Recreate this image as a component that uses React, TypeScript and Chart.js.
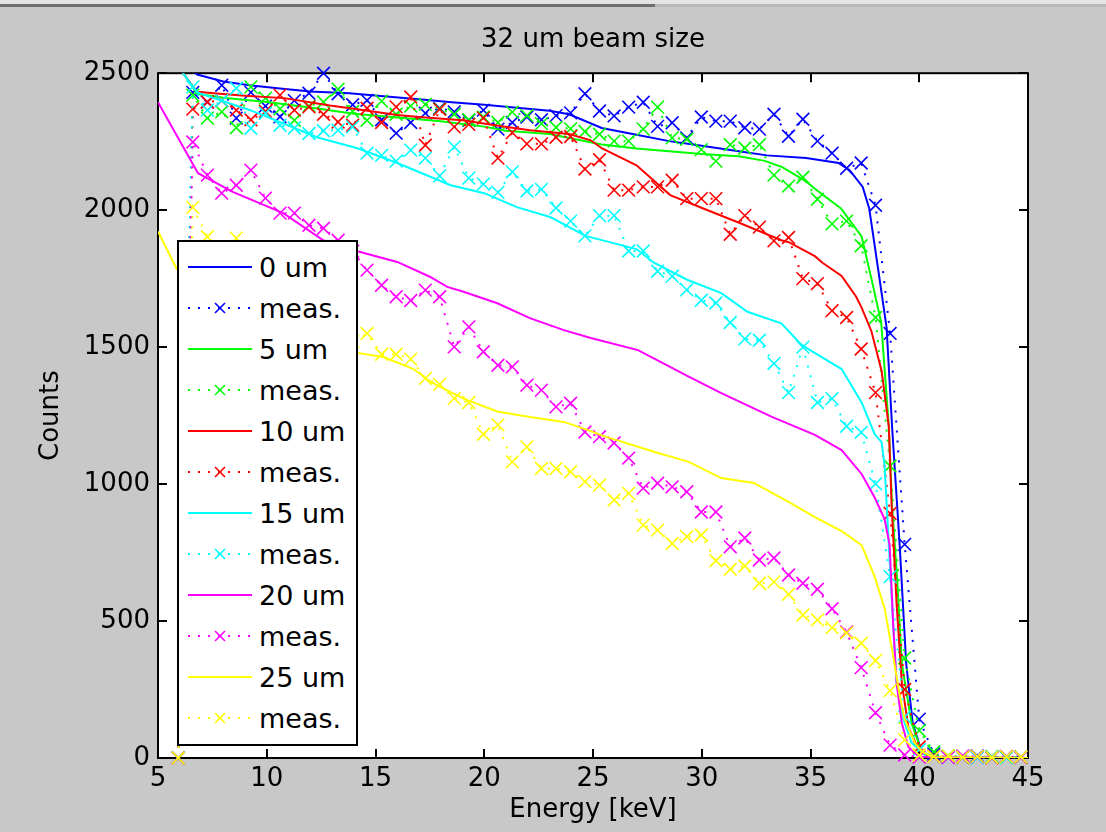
import React, { useEffect, useRef } from "react";
import { Chart, registerables } from "chart.js";

Chart.register(...registerables);

const titleText = "32 um beam size";
const xTitleText = "Energy [keV]";
const yTitleText = "Counts";
const xTickValues = [5, 10, 15, 20, 25, 30, 35, 40, 45];
const yTickValues = [0, 500, 1000, 1500, 2000, 2500];

const legendLabels = ["0 um", "meas.", "5 um", "meas.", "10 um", "meas.", "15 um", "meas.", "20 um", "meas.", "25 um", "meas."];
const seriesColors = ["#0000ff", "#00ff00", "#ff0000", "#00ffff", "#ff00ff", "#ffff00"];

// measured energies (keV)
const measEnergy = [5.93, 6.60, 7.27, 7.93, 8.60, 9.27, 9.94, 10.61, 11.27, 11.94, 12.61, 13.28, 13.95, 14.61, 15.28, 15.95, 16.62, 17.29, 17.95, 18.62, 19.29, 19.96, 20.63, 21.29, 21.96, 22.63, 23.30, 23.97, 24.63, 25.30, 25.97, 26.64, 27.31, 27.97, 28.64, 29.31, 29.98, 30.65, 31.31, 31.98, 32.65, 33.32, 33.99, 34.65, 35.32, 35.99, 36.66, 37.33, 37.99, 38.66, 39.33, 40.00, 40.67, 41.33, 42.00, 42.67, 43.34, 44.01, 44.67];

const meas0 = [0, 2430, 2395, 2456, 2336, 2430, 2380, 2341, 2400, 2427, 2500, 2425, 2385, 2401, 2330, 2281, 2320, 2354, 2372, 2359, 2328, 2365, 2296, 2320, 2340, 2330, 2345, 2355, 2425, 2362, 2344, 2376, 2394, 2306, 2319, 2264, 2340, 2325, 2325, 2301, 2296, 2350, 2270, 2332, 2252, 2208, 2153, 2172, 2018, 1550, 780, 142, 15, 6, 3, 8, 2, 5, 4];
const meas5 = [0, 2420, 2336, 2359, 2301, 2450, 2409, 2370, 2328, 2380, 2395, 2442, 2360, 2328, 2398, 2350, 2380, 2386, 2370, 2350, 2330, 2340, 2320, 2358, 2345, 2316, 2302, 2297, 2287, 2277, 2252, 2252, 2296, 2376, 2264, 2259, 2221, 2179, 2239, 2227, 2239, 2128, 2088, 2120, 2040, 1950, 1960, 1870, 1608, 1066, 365, 100, 23, 8, 5, 3, 6, 2, 4];
const meas10 = [0, 2369, 2395, 2400, 2365, 2330, 2360, 2420, 2365, 2377, 2350, 2322, 2310, 2372, 2320, 2377, 2413, 2237, 2368, 2304, 2313, 2336, 2190, 2283, 2242, 2242, 2266, 2269, 2150, 2184, 2073, 2073, 2085, 2085, 2109, 2042, 2042, 2042, 1912, 1980, 1938, 1888, 1900, 1750, 1732, 1633, 1608, 1493, 1334, 893, 250, 40, 8, 3, 2, 4, 1, 3, 2];
const meas15 = [0, 2450, 2365, 2400, 2445, 2299, 2354, 2310, 2300, 2280, 2290, 2292, 2304, 2208, 2200, 2179, 2219, 2190, 2125, 2231, 2117, 2095, 2065, 2140, 2070, 2076, 2008, 1960, 1906, 1980, 1980, 1851, 1851, 1777, 1759, 1709, 1671, 1661, 1590, 1530, 1525, 1440, 1334, 1500, 1298, 1312, 1211, 1189, 1001, 662, 150, 30, 6, 2, 3, 1, 4, 2, 3];
const meas20 = [0, 2249, 2128, 2062, 2091, 2146, 2044, 1989, 1989, 1945, 1934, 1890, 1850, 1781, 1726, 1684, 1670, 1708, 1684, 1501, 1574, 1483, 1434, 1428, 1361, 1343, 1282, 1295, 1190, 1173, 1150, 1095, 985, 1003, 990, 972, 898, 898, 771, 803, 723, 730, 668, 638, 616, 545, 460, 330, 165, 47, 11, 3, 5, 2, 8, 4, 2, 6, 3];
const meas25 = [0, 2010, 1903, 1860, 1898, 1820, 1790, 1745, 1700, 1668, 1620, 1585, 1520, 1550, 1474, 1474, 1456, 1386, 1364, 1313, 1298, 1182, 1216, 1081, 1136, 1057, 1057, 1045, 1009, 996, 942, 966, 850, 832, 783, 808, 814, 720, 689, 701, 638, 643, 598, 522, 504, 476, 457, 419, 356, 246, 66, 10, 5, 8, 3, 6, 2, 5, 4];

// simulated curves
const sim0E = [5, 5.6, 6.2, 6.8, 8, 9.2, 10.5, 12, 13.8, 15.5, 17, 18.5, 20, 22, 23, 23.9, 25.4, 27, 28.5, 30, 31.7, 33, 34.8, 36.3, 36.8, 37.4, 37.7, 38.1, 38.5, 38.75, 39.1, 39.4, 39.7, 40.1, 40.6, 45];
const sim0C = [2720, 2620, 2540, 2495, 2470, 2456, 2445, 2433, 2427, 2415, 2405, 2394, 2385, 2370, 2363, 2350, 2300, 2275, 2252, 2235, 2215, 2200, 2190, 2172, 2146, 2085, 2006, 1790, 1570, 1210, 777, 344, 127, 26, 3, 0];
const sim5E = [5, 6.2, 6.8, 8, 10, 12, 14, 16, 18, 20, 21, 23, 25.4, 27, 28.5, 30, 31.7, 32.9, 33.7, 34.8, 35.2, 36.4, 37.35, 37.8, 38.25, 38.6, 38.75, 39, 39.2, 39.65, 40.1, 40.6, 45];
const sim5C = [2640, 2495, 2425, 2410, 2395, 2375, 2352, 2338, 2325, 2305, 2290, 2278, 2240, 2225, 2215, 2205, 2197, 2180, 2157, 2105, 2078, 2006, 1904, 1750, 1590, 1211, 922, 633, 344, 127, 26, 3, 0];
const sim10E = [5, 6.15, 6.8, 7.7, 9, 10.8, 12.9, 14, 16, 17, 19, 20.8, 22.1, 23.9, 24.9, 25.4, 27, 28.55, 30.1, 31.66, 33.66, 34.0, 35.2, 35.55, 36.43, 37.1, 37.35, 37.8, 38.27, 38.6, 38.73, 38.96, 39.2, 39.5, 40, 40.5, 45];
const sim10C = [2640, 2500, 2432, 2426, 2418, 2409, 2382, 2370, 2347, 2340, 2328, 2306, 2292, 2278, 2255, 2226, 2164, 2055, 2005, 1956, 1890, 1883, 1832, 1808, 1760, 1684, 1644, 1558, 1413, 1211, 922, 561, 272, 113, 26, 3, 0];
const sim15E = [5, 6.15, 6.8, 9.24, 10.76, 12.3, 14.17, 16.0, 18.46, 20.0, 21.5, 23.06, 24.65, 27.0, 27.8, 29.33, 30.9, 32.1, 33.66, 34.6, 36.43, 37.35, 37.95, 38.27, 38.41, 38.6, 38.8, 38.96, 39.33, 39.65, 40.1, 40.6, 45];
const sim15C = [2650, 2500, 2430, 2365, 2317, 2266, 2226, 2172, 2091, 2062, 2011, 1974, 1906, 1858, 1808, 1746, 1697, 1629, 1587, 1507, 1420, 1298, 1182, 1153, 1066, 777, 488, 272, 127, 55, 26, 3, 0];
const sim20E = [5, 6.84, 8.46, 10.76, 12.6, 14.17, 16, 17.5, 18.3, 19.05, 20.6, 22.1, 23.66, 24.9, 27.07, 29.4, 30.9, 33.2, 35.2, 36.43, 37.35, 37.95, 38.41, 38.64, 38.8, 38.96, 39.2, 39.5, 40, 45];
const sim20C = [2394, 2135, 2066, 1989, 1890, 1850, 1811, 1757, 1720, 1702, 1660, 1606, 1562, 1533, 1489, 1392, 1332, 1246, 1180, 1124, 1037, 951, 871, 777, 488, 272, 127, 40, 5, 0];
const sim25E = [5, 5.83, 6.8, 8, 10, 12, 14.16, 15.37, 16.75, 17.53, 19.05, 20.6, 22.1, 23.66, 24.77, 25.5, 27.8, 29.4, 30.9, 32.4, 33.99, 35.2, 36.43, 37.35, 37.95, 38.41, 38.8, 39.1, 39.33, 39.8, 40.1, 40.6, 45];
const sim25C = [1922, 1790, 1700, 1645, 1585, 1532, 1479, 1464, 1420, 1373, 1312, 1265, 1245, 1227, 1197, 1175, 1118, 1081, 1022, 1004, 935, 879, 828, 777, 662, 546, 373, 228, 142, 55, 26, 3, 0];

const simE = [sim0E, sim5E, sim10E, sim15E, sim20E, sim25E];
const simC = [sim0C, sim5C, sim10C, sim15C, sim20C, sim25C];
const measC = [meas0, meas5, meas10, meas15, meas20, meas25];

const FONT = "DejaVu Sans";

const axesBoxPlugin = {
  id: "axesBox",
  beforeDraw(chart: any) {
    const { ctx, chartArea: a } = chart;
    ctx.save();
    ctx.fillStyle = "#ffffff";
    ctx.fillRect(a.left, a.top, a.right - a.left, a.bottom - a.top);
    ctx.restore();
  },
  beforeDatasetsDraw(chart: any) {
    const { ctx, chartArea: a, scales } = chart;
    const L = 9;
    ctx.save();
    ctx.strokeStyle = "#000000";
    ctx.lineWidth = 2;
    ctx.strokeRect(a.left, a.top, a.right - a.left, a.bottom - a.top);
    ctx.beginPath();
    xTickValues.forEach((v) => {
      const px = Math.round(scales.x.getPixelForValue(v));
      ctx.moveTo(px, a.bottom);
      ctx.lineTo(px, a.bottom - L);
      ctx.moveTo(px, a.top);
      ctx.lineTo(px, a.top + L);
    });
    yTickValues.forEach((v) => {
      const py = Math.round(scales.y.getPixelForValue(v));
      ctx.moveTo(a.left, py);
      ctx.lineTo(a.left + L, py);
      ctx.moveTo(a.right, py);
      ctx.lineTo(a.right - L, py);
    });
    ctx.stroke();
    ctx.restore();
  },
};

function LegendSample({ color, meas }: { color: string; meas: boolean }) {
  return (
    <svg width={64} height={20} style={{ display: "block" }}>
      {meas ? (
        <>
          <line x1={0} y1={10} x2={64} y2={10} stroke={color} strokeWidth={2} strokeDasharray="2 8" />
          <line x1={27} y1={5} x2={37} y2={15} stroke={color} strokeWidth={1.6} />
          <line x1={37} y1={5} x2={27} y2={15} stroke={color} strokeWidth={1.6} />
        </>
      ) : (
        <line x1={0} y1={10} x2={64} y2={10} stroke={color} strokeWidth={2} />
      )}
    </svg>
  );
}

export default function App() {
  const canvasRef = useRef<HTMLCanvasElement | null>(null);

  useEffect(() => {
    const canvas = canvasRef.current;
    if (!canvas) return;
    const datasets: any[] = [];
    const n = seriesColors.length;
    for (let i = 0; i < n; i++) {
      const color = seriesColors[i];
      datasets.push({
        label: legendLabels[2 * i],
        data: simE[i].map((e, k) => ({ x: e, y: simC[i][k] })),
        borderColor: color,
        backgroundColor: color,
        borderWidth: 2,
        pointRadius: 0,
        tension: 0,
        fill: false,
        order: 100 - 2 * i,
      });
      datasets.push({
        label: legendLabels[2 * i + 1],
        data: measEnergy.map((e, k) => ({ x: e, y: measC[i][k] })),
        borderColor: color,
        backgroundColor: color,
        borderWidth: 2,
        borderDash: [2, 8],
        pointStyle: "crossRot",
        pointRadius: 9,
        pointBorderWidth: 1.6,
        pointBorderColor: color,
        pointBackgroundColor: color,
        tension: 0,
        fill: false,
        clip: false,
        order: 100 - 2 * i - 1,
      });
    }

    const chart = new Chart(canvas, {
      type: "line",
      data: { datasets },
      options: {
        animation: false,
        responsive: false,
        devicePixelRatio: 1,
        layout: { padding: { left: 0, right: 78, top: 0, bottom: 0 } },
        plugins: {
          legend: { display: false },
          tooltip: { enabled: false },
          title: {
            display: true,
            text: titleText,
            fullSize: false,
            color: "#000000",
            font: { family: FONT, size: 26, weight: "normal", lineHeight: 1.2 },
            padding: { top: 25, bottom: 17 },
          },
        },
        scales: {
          x: {
            type: "linear",
            min: 5,
            max: 45,
            grid: { display: false, drawTicks: false },
            border: { display: false },
            ticks: {
              color: "#000000",
              font: { family: FONT, size: 26, lineHeight: 1.2 },
              padding: 6,
              maxRotation: 0,
              autoSkip: false,
              callback: (v: any) => String(v),
            },
            afterBuildTicks: (s: any) => {
              s.ticks = xTickValues.map((v) => ({ value: v }));
            },
            title: {
              display: true,
              text: xTitleText,
              color: "#000000",
              font: { family: FONT, size: 26, lineHeight: 1.2 },
              padding: { top: 0, bottom: 6 },
            },
            afterFit: (s: any) => {
              s.height = 74;
            },
          },
          y: {
            type: "linear",
            min: 0,
            max: 2500,
            grid: { display: false, drawTicks: false },
            border: { display: false },
            ticks: {
              color: "#000000",
              font: { family: FONT, size: 26, lineHeight: 1.2 },
              padding: 8,
              autoSkip: false,
              callback: (v: any) => String(v),
            },
            afterBuildTicks: (s: any) => {
              s.ticks = yTickValues.map((v) => ({ value: v }));
            },
            title: {
              display: true,
              text: yTitleText,
              color: "#000000",
              font: { family: FONT, size: 26, lineHeight: 1.2 },
              padding: { top: 36, bottom: 0 },
            },
            afterFit: (s: any) => {
              s.width = 158;
            },
          },
        },
      },
      plugins: [axesBoxPlugin],
    } as any);

    return () => {
      chart.destroy();
    };
  }, []);

  return (
    <div
      style={{
        position: "fixed",
        left: 0,
        top: 0,
        width: 1106,
        height: 832,
        background: "#c8c8c8",
        overflow: "hidden",
      }}
    >
      <div style={{ position: "absolute", left: 0, top: 0, width: 1106, height: 4, background: "#e4e4e4" }} />
      <div style={{ position: "absolute", left: 0, top: 4, width: 655, height: 3, background: "#707070" }} />
      <div style={{ position: "absolute", left: 655, top: 4, width: 451, height: 3, background: "#b8b8b8" }} />
      <canvas ref={canvasRef} width={1106} height={832} style={{ position: "absolute", left: 0, top: 0, display: "block" }} />
      <div
        style={{
          position: "absolute",
          left: 177,
          top: 240,
          width: 181,
          height: 506,
          boxSizing: "border-box",
          border: "2px solid #000",
          background: "#ffffff",
        }}
      >
        {legendLabels.map((label, k) => (
          <div
            key={k}
            style={{
              position: "absolute",
              left: 0,
              top: 4.5 + k * 41,
              height: 41,
              width: "100%",
              display: "flex",
              alignItems: "center",
            }}
          >
            <div style={{ marginLeft: 9 }}>
              <LegendSample color={seriesColors[Math.floor(k / 2)]} meas={k % 2 === 1} />
            </div>
            <span
              style={{
                marginLeft: 7,
                fontFamily: FONT,
                fontSize: 27,
                lineHeight: "41px",
                color: "#000",
                whiteSpace: "nowrap",
              }}
            >
              {label}
            </span>
          </div>
        ))}
      </div>
    </div>
  );
}
